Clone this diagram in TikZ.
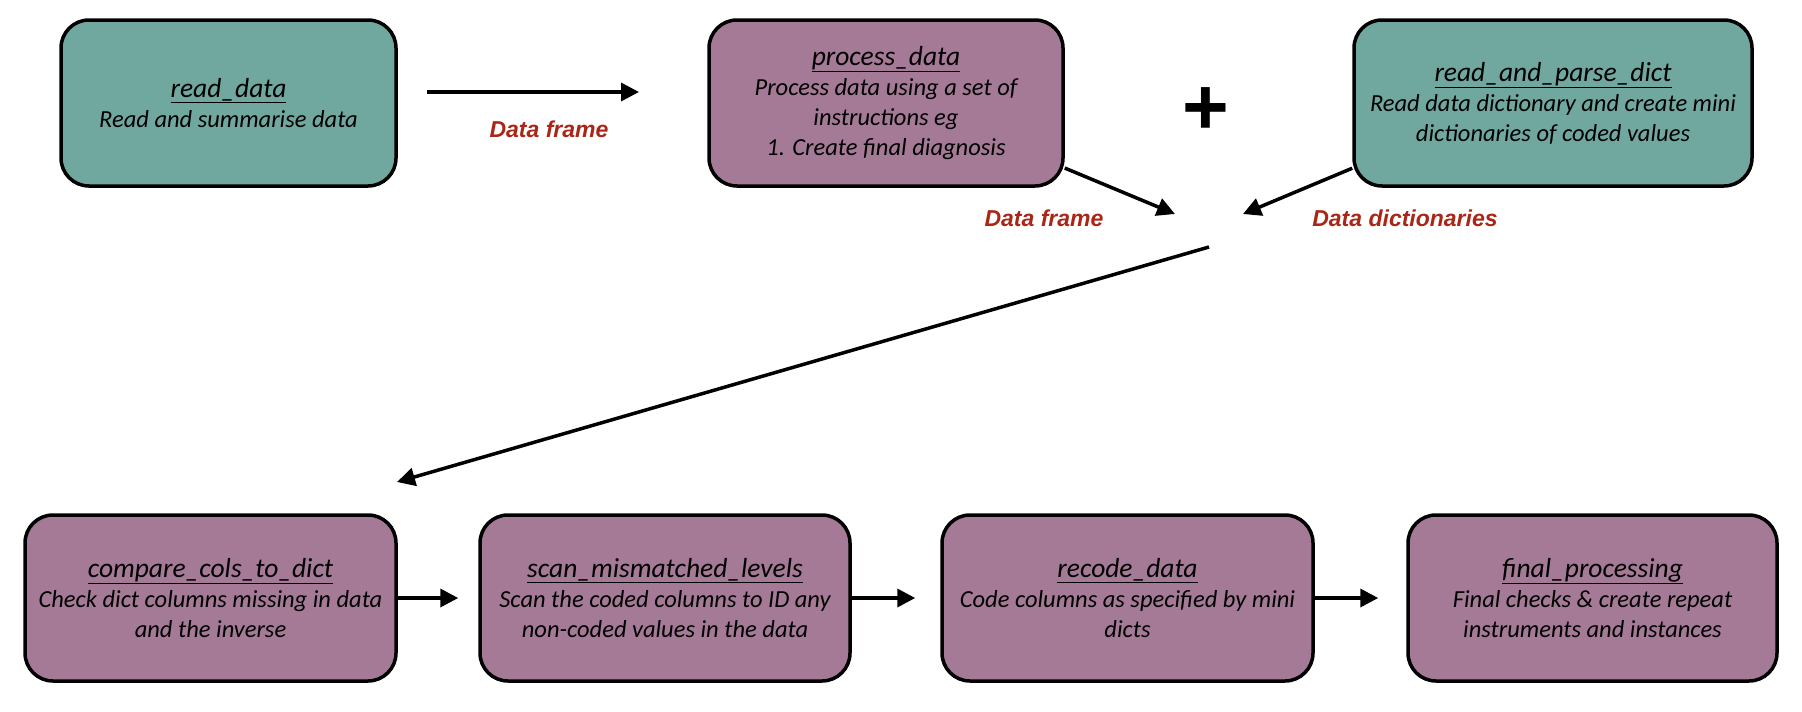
\documentclass[tikz,border=0pt]{standalone}
\usepackage{fontspec}
\setmainfont{Carlito}
\newfontfamily\labelfont{Liberation Sans}
\usetikzlibrary{arrows.meta}
\definecolor{tealbox}{RGB}{112,168,160}
\definecolor{mauvebox}{RGB}{165,122,150}
\definecolor{labelred}{RGB}{170,38,22}
\newcommand\boxtitle[1]{{\fontsize{27.5}{30}\selectfont\underline{#1}}}
\begin{document}
\begin{tikzpicture}[x=1pt,y=-1pt,
  box/.style={draw=black, line width=3.5pt, rounded corners=28pt, minimum height=166pt,
    align=center, inner sep=0pt, font=\fontsize{24.5}{30}\selectfont\itshape},
  tealnode/.style={box, fill=tealbox},
  mauvenode/.style={box, fill=mauvebox},
  flow/.style={line width=3.5pt, -{Triangle[length=18pt,width=18pt]}},
  lbl/.style={font=\labelfont\bfseries\itshape\fontsize{23}{28}\selectfont, text=labelred},
  plus/.style={font=\labelfont\bfseries\fontsize{80}{80}\selectfont}
]
\fill[white] (0,0) rectangle (1802,712);
\useasboundingbox (0,0) rectangle (1802,712);

% top row
\node[tealnode, minimum width=335pt] (rd) at (228.5,103)
  {\boxtitle{read\_data}\\Read and summarise data};
\node[mauvenode, minimum width=354pt] (pd) at (886,103)
  {\boxtitle{process\_data}\\Process data using a set of\\instructions eg\\1. Create final diagnosis};
\node[tealnode, minimum width=398pt] (rpd) at (1553,103)
  {\boxtitle{read\_and\_parse\_dict}\\Read data dictionary and create mini\\dictionaries of coded values};

% bottom row
\node[mauvenode, minimum width=371pt] (cmp) at (210.5,598)
  {\boxtitle{compare\_cols\_to\_dict}\\Check dict columns missing in data\\and the inverse};
\node[mauvenode, minimum width=370pt] (scan) at (665,598)
  {\boxtitle{scan\_mismatched\_levels}\\Scan the coded columns to ID any\\non-coded values in the data};
\node[mauvenode, minimum width=371pt] (rec) at (1127.5,598)
  {\boxtitle{recode\_data}\\Code columns as specified by mini\\dicts};
\node[mauvenode, minimum width=369pt] (fin) at (1592.5,598)
  {\boxtitle{final\_processing}\\Final checks \& create repeat\\instruments and instances};

% plus sign and labels
\node[plus] (plusn) at (1206,111) {+};
\node[lbl] (l1) at (549,129) {Data frame};
\node[lbl] (l2) at (1044,218) {Data frame};
\node[lbl] (l3) at (1405,218) {Data dictionaries};

% free ends
\coordinate (a1s) at (427,92);
\coordinate (a1e) at (639,92);
\coordinate (hubL) at (1175,214);
\coordinate (hubR) at (1243,214);
\coordinate (hubS) at (1209,247);
\coordinate (cmpin) at (397,482);

% connectors
\draw[flow] (a1s) -- (a1e);
\draw[flow] (pd.-20) -- (hubL);
\draw[flow] (rpd.198) -- (hubR);
\draw[flow] (hubS) -- (cmpin);
\draw[flow, shorten >=20pt] (cmp.east) -- (scan.west);
\draw[flow, shorten >=25pt] (scan.east) -- (rec.west);
\draw[flow, shorten >=28pt] (rec.east) -- (fin.west);
\end{tikzpicture}
\end{document}
